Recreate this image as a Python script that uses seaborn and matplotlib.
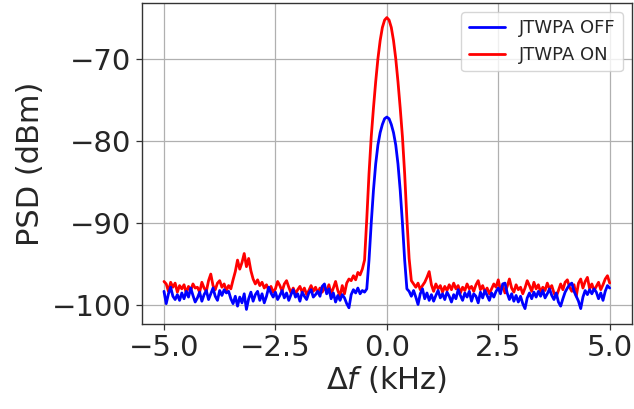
import numpy as np
import matplotlib
matplotlib.use("Agg")
import matplotlib.pyplot as plt
import seaborn as sns

# frequency offset grid (kHz)
freq = np.linspace(-5.0, 5.0, 201)

psd_off = [
    -98.3, -99.8, -98.6, -97.8, -98.9, -99.3, -98.7, -99.4, -98.5, -99.2,
    -98.3, -99.0, -97.9, -98.8, -99.6, -99.1, -98.4, -99.5, -98.7, -98.2,
    -99.3, -98.6, -97.9, -98.9, -99.4, -98.2, -98.8, -98.1, -98.5, -98.3,
    -99.2, -99.8, -98.9, -100.1, -99.0, -99.7, -98.6, -100.5, -99.2, -98.4,
    -99.5, -98.7, -98.3, -99.4, -98.6, -99.7, -98.9, -97.8, -98.5, -99.0,
    -98.4, -99.3, -98.8, -98.2, -99.1, -98.5, -99.4, -98.7, -98.1, -99.0,
    -98.6, -99.5, -98.4, -98.9, -99.3, -98.5, -98.1, -99.0, -98.7, -98.3,
    -98.9, -97.7, -97.4, -98.6, -98.0, -99.2, -98.5, -99.6, -98.8, -99.4,
    -98.7, -99.1, -99.8, -100.3, -98.7, -98.1, -98.5, -97.9, -98.6, -98.2,
    -98.4, -98.0, -94.5, -90.0, -86.0, -82.8, -80.5, -79.0, -78.0, -77.3,
    -77.1, -77.3, -78.0, -79.0, -80.5, -82.8, -86.0, -90.0, -94.5, -98.0,
    -98.3, -98.9, -98.2, -99.0, -99.9, -98.6, -98.0, -99.2, -98.5, -99.4,
    -98.7, -99.5, -98.8, -98.2, -99.1, -98.6, -99.3, -98.4, -98.9, -99.6,
    -98.7, -99.2, -98.1, -98.8, -99.4, -98.5, -99.0, -98.3, -99.5, -98.6,
    -98.9, -99.7, -98.4, -99.1, -98.2, -98.8, -99.4, -98.5, -99.0, -98.3,
    -97.9, -98.6, -97.4, -97.3, -98.5, -99.3, -98.6, -99.5, -98.8, -99.6,
    -98.9, -99.8, -100.4, -99.1, -98.5, -99.2, -98.4, -99.0, -98.3, -98.9,
    -98.2, -99.1, -98.6, -98.0, -98.8, -99.3, -98.5, -99.6, -100.1, -99.2,
    -98.4, -97.9, -97.5, -97.3, -98.3, -98.9, -99.5, -100.4, -99.0, -98.2,
    -98.7, -98.1, -98.6, -98.0, -98.4, -99.2, -98.5, -99.4, -98.3, -97.6,
    -97.9,
]

psd_on = [
    -97.1, -97.4, -98.3, -97.2, -97.8, -97.3, -98.4, -97.6, -98.0, -97.5,
    -98.5, -97.7, -98.2, -97.4, -97.9, -97.8, -98.4, -97.2, -97.9, -98.3,
    -97.0, -96.2, -97.6, -98.1, -97.3, -97.0, -97.8, -97.4, -98.2, -97.6,
    -98.0, -96.9, -95.9, -94.5, -95.6, -94.8, -93.7, -95.3, -94.3, -95.8,
    -96.8, -97.4, -96.9, -97.6, -97.2, -97.9, -97.5, -98.2, -97.7, -98.4,
    -98.0, -97.1, -97.6, -98.3, -97.4, -97.0, -97.8, -98.5, -97.9, -98.6,
    -98.1, -97.7, -98.4, -97.9, -98.7, -98.2, -97.6, -98.3, -97.8, -98.5,
    -97.9, -98.4, -97.8, -98.3, -97.5, -98.6, -97.9, -97.1, -98.2, -98.9,
    -97.6, -98.6, -97.3, -96.8, -97.0, -96.4, -96.9, -96.0, -96.3, -95.6,
    -94.5, -89.5, -84.0, -79.5, -76.0, -72.8, -70.0, -67.8, -66.2, -65.3,
    -65.0, -65.3, -66.2, -67.8, -70.0, -72.8, -76.0, -79.5, -84.0, -89.5,
    -94.3, -97.0, -97.4, -97.8, -97.3, -98.1, -97.6, -97.2, -96.6, -95.9,
    -97.5, -98.3, -97.4, -98.0, -97.6, -98.4, -97.7, -98.2, -97.5, -98.1,
    -97.3, -98.0, -97.6, -98.5, -97.8, -98.2, -97.4, -98.0, -97.7, -98.3,
    -97.5, -97.0, -98.1, -97.6, -98.4, -97.9, -98.6, -98.0, -97.4, -97.8,
    -96.9, -98.2, -97.6, -98.5, -97.7, -96.8, -97.9, -98.4, -97.5, -98.1,
    -97.8, -98.6, -97.9, -97.0, -97.6, -98.3, -97.2, -98.0, -97.5, -98.4,
    -97.8, -98.2, -97.3, -98.0, -97.6, -98.5, -99.0, -98.2, -97.4, -98.1,
    -97.2, -96.9, -97.8, -98.3, -97.5, -98.9, -97.3, -96.8, -97.9, -97.1,
    -96.6, -98.0, -97.4, -98.2, -97.7, -97.2, -98.1, -97.5, -96.8, -96.4,
    -97.3,
]

labels = ["JTWPA OFF", "JTWPA ON"]
colors = ["blue", "red"]

sns.set_style("ticks")
plt.rcParams['font.family'] = ['DejaVu Sans']

fig = plt.figure(figsize=(6.34, 4.09), dpi=100)
ax = fig.add_axes([0.2235, 0.2078, 0.9968 - 0.2235, 0.9927 - 0.2078])

sns.lineplot(x=freq, y=np.array(psd_off), ax=ax, color=colors[0], lw=2,
             label=labels[0], zorder=3)
sns.lineplot(x=freq, y=np.array(psd_on), ax=ax, color=colors[1], lw=2,
             label=labels[1], zorder=2)

ax.grid(True, color="#b0b0b0", lw=0.9)
ax.set_axisbelow(True)
for s in ax.spines.values():
    s.set_color("#333333")
    s.set_linewidth(1.0)
ax.tick_params(labelsize=21, direction="out", length=4, width=0.9, color="#333333")
ax.set_xticks([-5.0, -2.5, 0.0, 2.5, 5.0])
ax.set_yticks([-100, -90, -80, -70])
ax.set_xlabel(r"$\Delta f$ (kHz)", fontsize=22, labelpad=1)
ax.set_ylabel("PSD (dBm)", fontsize=22, labelpad=5)
ax.legend(loc="upper right", fontsize=13, frameon=True, fancybox=True,
          framealpha=0.8, edgecolor="#cccccc")

fig.savefig("out.png", dpi=100)
